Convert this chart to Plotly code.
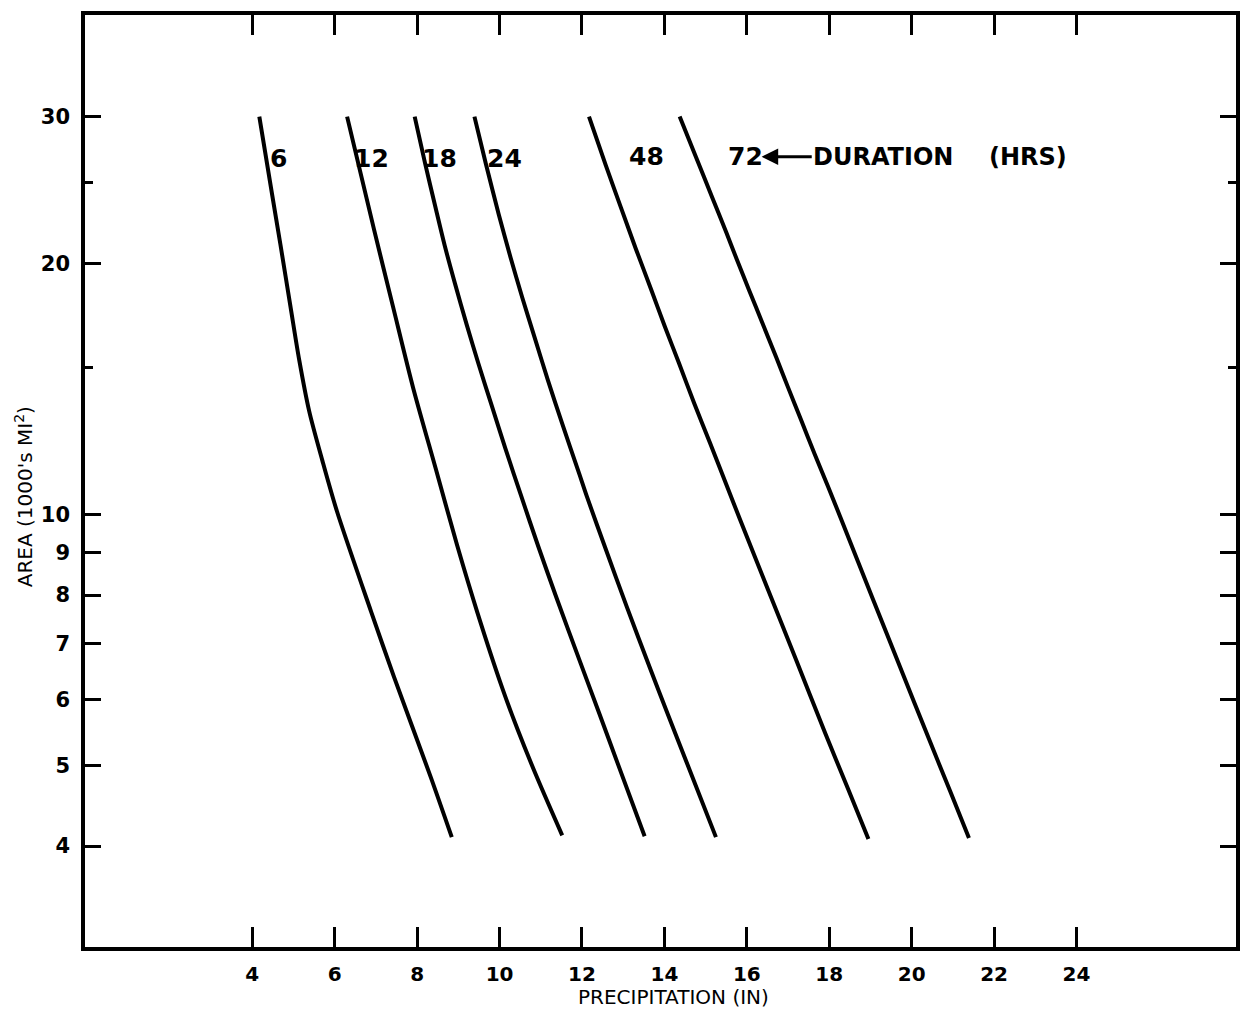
import math
import plotly.graph_objects as go

# Durations (hours) and curves: precipitation (in) vs area (1000's mi^2)
durations = ["6", "12", "18", "24", "48", "72"]

precip_6 = [4.17, 4.48, 4.68, 4.93, 5.14, 5.38, 5.70, 6.05, 6.88, 7.44, 8.33, 8.84]
area_6 = [30.0, 24.2, 21.1, 17.7, 15.3, 13.3, 11.6, 10.1, 7.65, 6.38, 4.84, 4.10]

precip_12 = [6.30, 6.95, 7.42, 7.90, 8.45, 8.97, 9.46, 10.07, 10.45, 10.92, 11.52]
area_12 = [30.0, 22.0, 17.7, 14.2, 11.35, 9.18, 7.63, 6.18, 5.50, 4.82, 4.12]

precip_18 = [7.94, 8.19, 8.44, 8.67, 8.92, 9.20, 9.48, 9.81, 10.14, 10.53, 10.94, 11.37, 11.97, 12.42, 12.87, 13.52]
area_18 = [30.0, 26.4, 23.4, 21.0, 18.9, 16.9, 15.2, 13.5, 12.0, 10.5, 9.15, 7.97, 6.62, 5.77, 5.02, 4.11]

precip_24 = [9.39, 9.67, 9.98, 10.27, 10.55, 10.85, 11.17, 11.53, 11.93, 12.12, 12.56, 13.09, 13.67, 14.08, 14.56, 15.25]
area_24 = [30.0, 26.3, 22.9, 20.3, 18.2, 16.3, 14.5, 12.8, 11.2, 10.5, 9.13, 7.74, 6.50, 5.76, 5.01, 4.10]

precip_48 = [12.17, 12.58, 12.95, 13.31, 13.68, 14.01, 14.35, 14.72, 15.10, 15.49, 15.83, 16.51, 17.19, 17.91, 18.46, 18.95]
area_48 = [30.0, 26.2, 23.3, 20.8, 18.6, 16.8, 15.2, 13.6, 12.2, 10.9, 9.87, 8.13, 6.70, 5.45, 4.68, 4.08]

precip_72 = [14.37, 14.77, 15.16, 15.50, 15.76, 16.05, 16.37, 16.72, 17.00, 17.31, 17.65, 17.97, 18.27, 19.07, 19.75, 20.43, 20.93, 21.39]
area_72 = [30.0, 26.8, 24.0, 21.8, 20.2, 18.6, 17.0, 15.4, 14.2, 13.0, 11.8, 10.8, 9.92, 7.89, 6.50, 5.36, 4.66, 4.09]

curves_x = [precip_6, precip_12, precip_18, precip_24, precip_48, precip_72]
curves_y = [area_6, area_12, area_18, area_24, area_48, area_72]

# Curve labels (x in inches, y as area)
label_x = [4.63, 6.90, 8.55, 10.12, 13.56, 15.97]
label_y = [26.7, 26.7, 26.7, 26.7, 26.85, 26.85]
arrow_head_x = 16.36
duration_center_x = 19.31
hrs_x = 21.83
caption_y = 26.85

x_ticks = [4, 6, 8, 10, 12, 14, 16, 18, 20, 22, 24]
y_ticks = [4, 5, 6, 7, 8, 9, 10, 20, 30]
y_minor = [15, 25]

BOLD = "DejaVu Sans"
INK = "black"

fig = go.Figure()
for dur, xs, ys in zip(durations, curves_x, curves_y):
    fig.add_trace(go.Scatter(
        x=xs, y=ys, mode="lines", name=dur + " hr",
        line=dict(color=INK, width=4, shape="spline", smoothing=0.8),
        showlegend=False,
    ))

for txt, lx, ly in zip(durations, label_x, label_y):
    fig.add_annotation(x=lx, y=math.log10(ly), xref="x", yref="y", text="<b>" + txt + "</b>",
                       showarrow=False, font=dict(family=BOLD, size=25, color=INK),
                       xanchor="center", yanchor="middle")

# "DURATION" with its arrow pointing at the 72 curve label
fig.add_annotation(x=arrow_head_x, y=math.log10(caption_y), xref="x", yref="y",
                   ax=duration_center_x, ay=math.log10(caption_y), axref="x", ayref="y",
                   text="<b>DURATION</b>", showarrow=True, arrowhead=2, arrowsize=1.1,
                   arrowwidth=3, arrowcolor=INK, standoff=0, startstandoff=0,
                   font=dict(family=BOLD, size=24, color=INK))
fig.add_annotation(x=hrs_x, y=math.log10(caption_y), xref="x", yref="y",
                   text="<b>(HRS)</b>", showarrow=False,
                   font=dict(family=BOLD, size=24, color=INK), xanchor="left", yanchor="middle")

# axis titles
fig.add_annotation(x=0.511, y=-0.0536, xref="paper", yref="paper",
                   text="PRECIPITATION (IN)", showarrow=False,
                   font=dict(family="DejaVu Sans", size=20, color=INK),
                   xanchor="center", yanchor="middle")
fig.add_annotation(x=-0.0535, y=0.483, xref="paper", yref="paper",
                   text="AREA (1000's MI<sup>2</sup>)", showarrow=False, textangle=-90,
                   font=dict(family="DejaVu Sans", size=20, color=INK),
                   xanchor="center", yanchor="middle")

fig.update_layout(
    width=1249, height=1010,
    margin=dict(l=85, r=9, t=15, b=63),
    paper_bgcolor="white", plot_bgcolor="white",
    font=dict(family=BOLD, color=INK),
)
fig.update_xaxes(
    range=[-0.06, 27.87],
    tickmode="array", tickvals=x_ticks, ticktext=[str(v) for v in x_ticks],
    ticks="inside", ticklen=20, tickwidth=2.5, tickcolor=INK,
    showline=True, linewidth=3.5, linecolor=INK, mirror="ticks",
    showgrid=False, zeroline=False,
    tickfont=dict(family=BOLD, size=20, color=INK, weight="bold"),
    ticklabelstandoff=6,
)
fig.update_yaxes(
    type="log", range=[0.481, 1.599],
    tickmode="array", tickvals=y_ticks, ticktext=[str(v) for v in y_ticks],
    ticks="inside", ticklen=16, tickwidth=2.5, tickcolor=INK,
    minor=dict(tickmode="array", tickvals=y_minor, ticks="inside", ticklen=8, tickwidth=2.5, tickcolor=INK),
    showline=True, linewidth=3.5, linecolor=INK, mirror="ticks",
    showgrid=False, zeroline=False,
    tickfont=dict(family=BOLD, size=21, color=INK, weight="bold"),
    ticklabelstandoff=7,
)

fig.write_html("out.html")
